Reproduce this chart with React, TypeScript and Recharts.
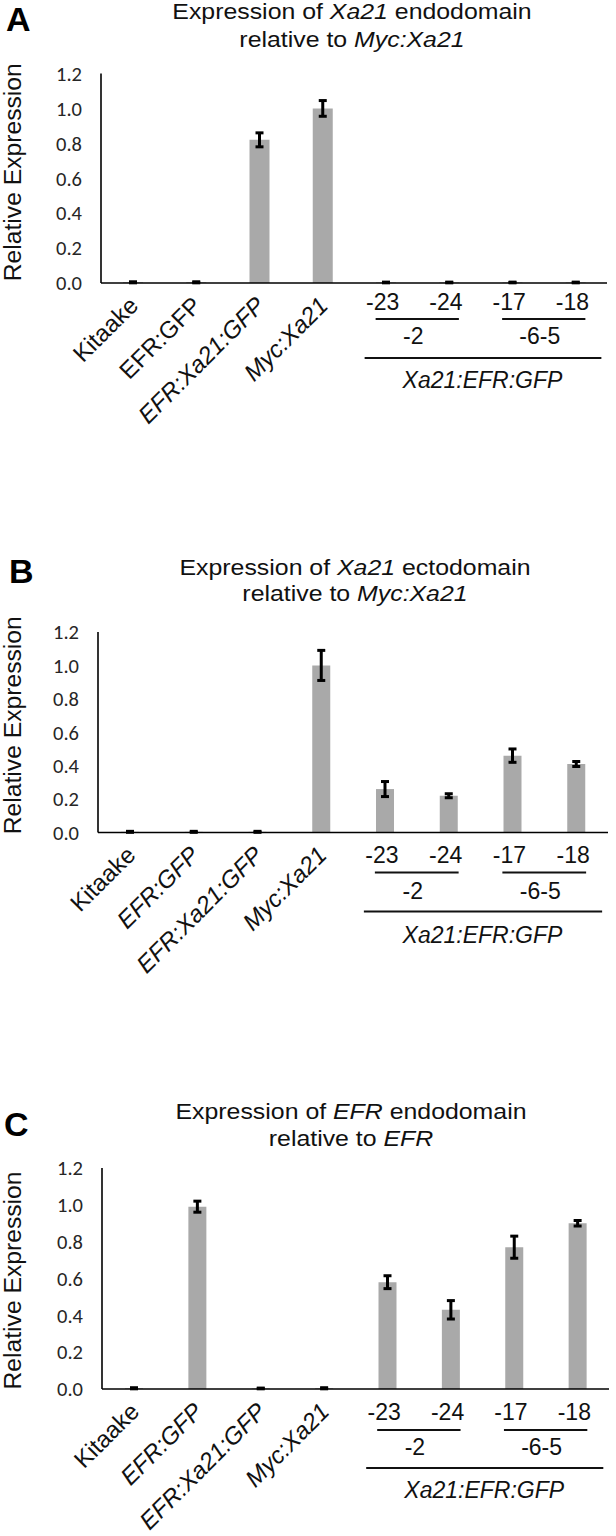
import React from "react";
import { BarChart, Bar, XAxis, YAxis, ErrorBar } from "recharts";

const SANS = "'Liberation Sans', Arial, Helvetica, sans-serif";
const TICK_FONT = "Carlito, Lato, 'Liberation Sans', sans-serif";

const categories = ["Kitaake", "EFR:GFP", "EFR:Xa21:GFP", "Myc:Xa21", "-23", "-24", "-17", "-18"];
const yTicks = [0, 0.2, 0.4, 0.6, 0.8, 1.0, 1.2];
const lineGroups = [
  { label: "-2", first: 4 },
  { label: "-6-5", first: 6 },
];
const constructLabel = "Xa21:EFR:GFP";

// A: Xa21 endodomain
const xa21Endo = [0.004, 0.004, 0.82, 1.0, 0.003, 0.003, 0.003, 0.003];
const xa21EndoErr = [0.003, 0.003, 0.04, 0.045, 0.002, 0.002, 0.002, 0.002];
const xa21EndoItalic = [false, false, true, true];

// B: Xa21 ectodomain
const xa21Ecto = [0.004, 0.004, 0.004, 1.0, 0.26, 0.22, 0.46, 0.41];
const xa21EctoErr = [0.003, 0.003, 0.003, 0.09, 0.045, 0.012, 0.04, 0.015];
const xa21EctoItalic = [false, true, true, true];

// C: EFR endodomain
const efrEndo = [0.004, 0.99, 0.003, 0.004, 0.58, 0.43, 0.77, 0.9];
const efrEndoErr = [0.003, 0.03, 0.002, 0.003, 0.035, 0.05, 0.06, 0.015];
const efrEndoItalic = [false, true, true, true];

type Panel = {
  letter: string;
  values: number[];
  errors: number[];
  italic: boolean[];
  title: [React.ReactNode, React.ReactNode];
  chartTop: number;
  chartHeight: number;
  plotTop: number;
  zero: number;
  axisX: number;
  right: number;
  barSize: number;
  titleX: number;
  titleTop: number;
  titleLH: number;
  letterTop: number;
  letterLeft: number;
  yLabelShift: number;
  numDy: number;
  ul1Dy: number;
  grpDy: number;
  ul2Dy: number;
  bigDy: number;
};

const panels: Panel[] = [
  {
    letter: "A",
    values: xa21Endo,
    errors: xa21EndoErr,
    italic: xa21EndoItalic,
    title: [
      <>Expression of <i>Xa21</i> endodomain</>,
      <>relative to <i>Myc:Xa21</i></>,
    ],
    chartTop: 0, chartHeight: 460, plotTop: 73.5, zero: 283, axisX: 101, right: 607, barSize: 20,
    titleX: 352, titleTop: -2.5, titleLH: 28, letterTop: 2, letterLeft: 6, yLabelShift: -6,
    numDy: 18.5, ul1Dy: 36, grpDy: 53, ul2Dy: 75, bigDy: 97,
  },
  {
    letter: "B",
    values: xa21Ecto,
    errors: xa21EctoErr,
    italic: xa21EctoItalic,
    title: [
      <>Expression of <i>Xa21</i> ectodomain</>,
      <>relative to <i>Myc:Xa21</i></>,
    ],
    chartTop: 520, chartHeight: 480, plotTop: 632, zero: 832.5, axisX: 98, right: 608, barSize: 18,
    titleX: 355, titleTop: 554.5, titleLH: 26, letterTop: 554, letterLeft: 9, yLabelShift: -7,
    numDy: 22, ul1Dy: 40, grpDy: 58, ul2Dy: 79, bigDy: 102,
  },
  {
    letter: "C",
    values: efrEndo,
    errors: efrEndoErr,
    italic: efrEndoItalic,
    title: [
      <>Expression of <i>EFR</i> endodomain</>,
      <>relative to <i>EFR</i></>,
    ],
    chartTop: 1060, chartHeight: 476, plotTop: 1168, zero: 1389, axisX: 102, right: 609, barSize: 18,
    titleX: 351, titleTop: 1097.5, titleLH: 27.5, letterTop: 1107, letterLeft: 4, yLabelShift: 2,
    numDy: 22.5, ul1Dy: 41, grpDy: 58, ul2Dy: 79, bigDy: 101,
  },
];

const makeTick = (p: Panel) => (props: any) => {
  const { x, y, index, payload } = props;
  const band = (p.right - p.axisX) / categories.length;
  if (index < 4) {
    return (
      <g transform={`translate(${x + 7},${y + 24}) rotate(-45)`}>
        <text
          textAnchor="end"
          fontSize={24}
          fontFamily={SANS}
          fontStyle={p.italic[index] ? "italic" : "normal"}
          fill="#111"
        >
          {payload.value}
        </text>
      </g>
    );
  }
  const group = lineGroups.find((g) => g.first === index);
  return (
    <g>
      <text x={x - 3} y={y + p.numDy} dy="0.36em" textAnchor="middle" fontSize={23} fontFamily={SANS} fill="#111">
        {payload.value}
      </text>
      {group && (
        <>
          <line x1={x - 10} x2={x + band + 10} y1={y + p.ul1Dy} y2={y + p.ul1Dy} stroke="#111" strokeWidth={1.8} />
          <text x={x + band / 2 - 4} y={y + p.grpDy} dy="0.36em" textAnchor="middle" fontSize={23} fontFamily={SANS} fill="#111">
            {group.label}
          </text>
        </>
      )}
      {index === 4 && (
        <>
          <line x1={x - 21} x2={x + 3 * band + 26} y1={y + p.ul2Dy} y2={y + p.ul2Dy} stroke="#111" strokeWidth={1.8} />
          <text x={x + 1.5 * band + 2} y={y + p.bigDy} dy="0.36em" textAnchor="middle" fontSize={23} fontFamily={SANS} fontStyle="italic" fill="#111">
            {constructLabel}
          </text>
        </>
      )}
    </g>
  );
};

function ExpressionPanel({ p }: { p: Panel }) {
  const rows = categories.map((name, i) => ({ name, value: p.values[i], err: p.errors[i] }));
  const plotHeight = p.zero - p.plotTop;
  return (
    <>
      <div
        style={{
          position: "absolute", left: p.letterLeft, top: p.letterTop,
          fontFamily: SANS, fontWeight: 700, fontSize: 34, lineHeight: "34px", color: "#000",
        }}
      >
        {p.letter}
      </div>
      <div
        style={{
          position: "absolute", left: p.titleX - 250, width: 500, top: p.titleTop, textAlign: "center",
          fontFamily: SANS, fontSize: 22, lineHeight: `${p.titleLH}px`, color: "#111",
          transform: "scaleX(1.13)", transformOrigin: "50% 50%", whiteSpace: "nowrap",
        }}
      >
        <div>{p.title[0]}</div>
        <div>{p.title[1]}</div>
      </div>
      <div style={{ position: "absolute", left: 0, top: p.chartTop }}>
        <BarChart
          width={616}
          height={p.chartHeight}
          data={rows}
          margin={{ top: p.plotTop - p.chartTop, right: 616 - p.right, left: p.axisX - 60, bottom: 0 }}
        >
          <XAxis
            dataKey="name"
            interval={0}
            axisLine={{ stroke: "#000", strokeWidth: 1.6 }}
            tickLine={false}
            tickSize={0}
            tickMargin={0}
            height={p.chartHeight - (p.zero - p.chartTop)}
            tick={makeTick(p)}
          />
          <YAxis
            type="number"
            width={60}
            domain={[0, 1.2]}
            ticks={yTicks}
            interval={0}
            tickFormatter={(v: number) => v.toFixed(1)}
            axisLine={{ stroke: "#000", strokeWidth: 1.6 }}
            tickLine={false}
            tickSize={0}
            tickMargin={19}
            tick={{ fontSize: 20.5, fill: "#262626", fontFamily: TICK_FONT }}
            label={{
              content: (lp: any) => {
                const vb = lp.viewBox || { y: p.plotTop - p.chartTop, height: plotHeight };
                const cy = vb.y + vb.height / 2 + p.yLabelShift;
                return (
                  <g transform={`translate(21,${cy}) rotate(-90)`}>
                    <text textAnchor="middle" fontSize={23} fontFamily={SANS} fill="#111" textLength={218} lengthAdjust="spacingAndGlyphs">
                      Relative Expression
                    </text>
                  </g>
                );
              },
            }}
          />
          <Bar dataKey="value" fill="#a9a9a9" barSize={p.barSize} isAnimationActive={false}>
            <ErrorBar dataKey="err" width={4} strokeWidth={3} stroke="#000" direction="y" isAnimationActive={false} />
          </Bar>
        </BarChart>
      </div>
    </>
  );
}

export default function App() {
  return (
    <div style={{ position: "absolute", left: 0, top: 0, width: 616, height: 1536, background: "#fff", overflow: "hidden" }}>
      {panels.map((p) => (
        <ExpressionPanel key={p.letter} p={p} />
      ))}
    </div>
  );
}
